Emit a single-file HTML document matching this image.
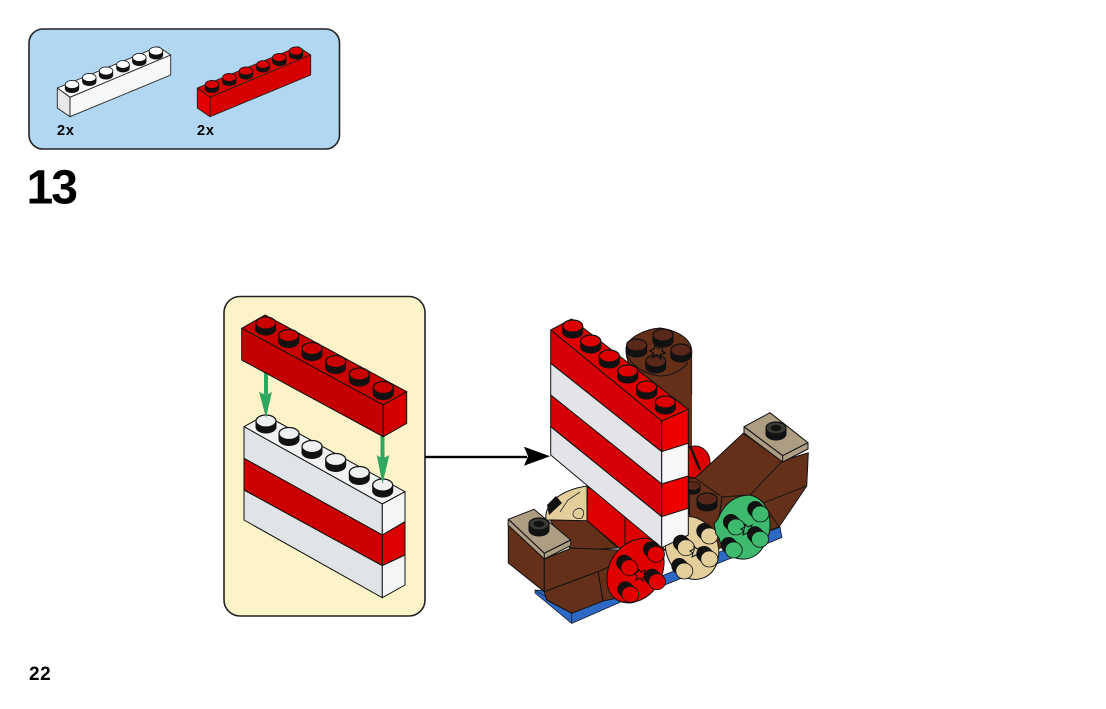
<!DOCTYPE html>
<html><head><meta charset="utf-8"><style>
html,body{margin:0;padding:0;background:#fff}
svg{display:block}
text{font-family:"Liberation Sans",Arial,sans-serif;font-weight:bold;fill:#000}
</style></head><body>
<svg width="1106" height="709" viewBox="0 0 1106 709" xmlns="http://www.w3.org/2000/svg">
<defs>
<g id="st"><path d="M-10.500 0V6A10.500 6.500 0 0 0 10.500 6V0Z" fill="#111"/><ellipse rx="10" ry="6" fill="currentColor" stroke="#111" stroke-width="1.200"/></g>
<g id="ds"><path d="M0 0L-4 -4" stroke="#111" stroke-width="16" stroke-linecap="round" fill="none"/><ellipse cx="1" cy="1" rx="8.500" ry="8" fill="currentColor" stroke="#111" stroke-width=".8"/></g>
<path id="star" d="M-6 -1L-2 -3L-2 -6L1 -3L5 -5L4 -1L7 1L3 2L3 6L0 3L-4 5L-3 1Z" fill="none" stroke="#111" stroke-width="1"/>
</defs>

<!-- parts panel -->
<rect x="29" y="29" width="310.500" height="120" rx="14" fill="#b1d7f3" stroke="#222" stroke-width="1.600"/>
<g stroke="#222" stroke-width=".9" stroke-linejoin="round">
<path d="M57.300 88L158.300 46.700L170.700 55L70 97.300Z" fill="#f7f8f8"/>
<path d="M57.300 88L70 97.300V116.700L57.300 108Z" fill="#e6e8e9"/>
<path d="M70 97.300L170.700 55V75L70 116.700Z" fill="#f6f7f8"/>
<path d="M197.300 88L298.300 46.700L310.700 55L210 97.300Z" fill="#d80000"/>
<path d="M197.300 88L210 97.300V116.700L197.300 108Z" fill="#e20000"/>
<path d="M210 97.300L310.700 55V75L210 116.700Z" fill="#d60000"/>
</g>
<g color="#fff">
<use href="#st" transform="translate(72 84.500) scale(.68)"/><use href="#st" transform="translate(89.300 77.500) scale(.68)"/><use href="#st" transform="translate(106 71) scale(.68)"/><use href="#st" transform="translate(123 64.500) scale(.64)"/><use href="#st" transform="translate(139.300 57.500) scale(.68)"/><use href="#st" transform="translate(156 51) scale(.68)"/>
</g>
<g color="#d80000">
<use href="#st" transform="translate(212 84.500) scale(.68)"/><use href="#st" transform="translate(229.300 77.500) scale(.68)"/><use href="#st" transform="translate(246 71) scale(.68)"/><use href="#st" transform="translate(263 64.500) scale(.64)"/><use href="#st" transform="translate(279.300 57.500) scale(.68)"/><use href="#st" transform="translate(296 51) scale(.68)"/>
</g>
<text x="57" y="135" font-size="14.500" letter-spacing=".8">2x</text>
<text x="197" y="135" font-size="14.500" letter-spacing=".8">2x</text>
<text x="26.500" y="203.500" font-size="48" letter-spacing="-2">13</text>
<text x="29" y="680" font-size="19" letter-spacing=".6">22</text>

<!-- inset -->
<rect x="224" y="296.500" width="201" height="319.500" rx="16" fill="#fdf3c9" stroke="#222" stroke-width="1.600"/>
<g stroke="#111" stroke-width="1" stroke-linejoin="round">
<path d="M244 426.700L265 415L405 491.700L382.300 504Z" fill="#f1f2f2"/>
<path d="M244 426.700L382.300 504V535L244 458.300Z" fill="#e1e4e6"/>
<path d="M244 458.300L382.300 535V565.700L244 490Z" fill="#cc0000"/>
<path d="M244 490L382.300 565.700V597.700L244 520Z" fill="#e1e4e6"/>
<path d="M382.300 504L405 491.700V521.700L382.300 535Z" fill="#f4f5f5"/>
<path d="M382.300 535L405 521.700V555L382.300 565.700Z" fill="#dd0000"/>
<path d="M382.300 565.700L405 555V585L382.300 597.700Z" fill="#f4f5f5"/>
</g>
<g color="#eef0f1">
<use href="#st" transform="translate(266 421)"/><use href="#st" transform="translate(289 433.500)"/><use href="#st" transform="translate(312 446.500)"/><use href="#st" transform="translate(335.700 459.500)"/><use href="#st" transform="translate(359.300 472.500)"/><use href="#st" transform="translate(382.700 485)"/>
</g>
<g fill="#2fa85f">
<rect x="264" y="358" width="4" height="36"/>
<path d="M259 391.500Q266 397 272 391.500L266 418Z"/>
<rect x="380.500" y="434" width="4" height="24"/>
<path d="M376.700 455Q382.500 460 389.300 455L382.500 484Z"/>
</g>
<g stroke="#111" stroke-width="1" stroke-linejoin="round">
<path d="M241.700 328.300L265 315L406.700 391.700L383.300 405Z" fill="#c80000"/>
<path d="M241.700 328.300L383.300 405V436.700L241.700 360Z" fill="#c40000"/>
<path d="M383.300 405L406.700 391.700V423.300L383.300 436.700Z" fill="#d40000"/>
</g>
<g color="#c80000">
<use href="#st" transform="translate(265.700 323)"/><use href="#st" transform="translate(288.700 335.500)"/><use href="#st" transform="translate(312 348.500)"/><use href="#st" transform="translate(335.700 361.500)"/><use href="#st" transform="translate(359.300 374)"/><use href="#st" transform="translate(383.300 387.500)"/>
</g>

<!-- arrow -->
<rect x="425" y="455.800" width="102" height="2.400" fill="#000"/>
<path d="M524 446.700L550 456.200L524 465.700L528 456.200Z" fill="#000"/>

<!-- main model -->
<path d="M535 590V593L571.700 623.500L623 601V595ZM640 595L782 537.500L780 527L640 585Z" fill="#2c68c4" stroke="#111" stroke-width=".7"/>
<path d="M535 590L571.700 613L571.700 623.500" fill="none" stroke="#111" stroke-width=".7"/>

<!-- cylinder -->
<path d="M626 352L636 392L688 440L692 470L690 515H660V400Z" fill="#64301a"/>
<path d="M626 352C628 375 650 395 672 400C678 408 686 412 689 412L691.700 352Z" fill="#64301a" stroke="#111" stroke-width=".9"/>
<path d="M626 349C626 338 645 329 660 328C680 331 692 340 691.700 352C692 364 676 376 660 376C642 374 626 362 626 349Z" fill="#64301a" stroke="#111" stroke-width="1"/>
<rect x="688" y="350" width="4" height="165" fill="#64301a"/>
<path d="M691.700 352V395" stroke="#111" stroke-width=".8"/>
<g color="#59281a">
<use href="#st" transform="translate(663 335)"/><use href="#st" transform="translate(636.700 345)"/><use href="#st" transform="translate(680.700 350)"/><use href="#st" transform="translate(655.700 361)"/>
</g>
<use href="#star" transform="translate(657 352) scale(1.200)"/>

<!-- red back disc -->
<ellipse cx="695" cy="462" rx="15" ry="16" fill="#dd0000" stroke="#111" stroke-width="1"/>
<path d="M690 446L700 470" stroke="#111" stroke-width="2.500"/>

<!-- right brown -->
<path d="M689 478L695 478.300L743.300 433.300L782 461L808.300 452.700L806.700 486L779 527L740 540L690 560Z" fill="#64301a" stroke="#111" stroke-width="1" stroke-linejoin="round"/>
<path d="M695 478.300L722 497M781.700 461.700L750 495L722 497M750 495L763 503L806.700 486M763 503L779 527M722 497L718 525" fill="none" stroke="#111" stroke-width=".9"/>
<path d="M744 426.700L770 412.700L808 442.700L782.700 455.700Z" fill="#ad9d83" stroke="#111" stroke-width="1" stroke-linejoin="round"/>
<path d="M744 426.700L782.700 455.700V462L744 433ZM782.700 455.700L808 442.700V449L782.700 462Z" fill="#ad9d83" stroke="#111" stroke-width="1" stroke-linejoin="round"/>
<use href="#st" transform="translate(776 428)" color="#3a3a36"/>
<ellipse cx="776" cy="428" rx="5.500" ry="3.200" fill="#111"/>
<use href="#st" transform="translate(707 499)" color="#59281a"/>
<use href="#st" transform="translate(693 486) scale(.7)" color="#59281a"/>

<!-- cream back disc -->
<path d="M546 520C544 504 560 490 587 486V521Z" fill="#e4cf9c" stroke="#111" stroke-width="1"/>
<path d="M556 496L547 505L549 515L562 503Z" fill="#111"/>
<path d="M560 512L568 500L580 492M575 510C570 515 575 520 582 518C586 512 582 505 575 510Z" fill="none" stroke="#222" stroke-width=".8"/>

<!-- red bricks below wall -->
<path d="M587.300 487L587 521L640 565L665 550L625 505Z" fill="#dd0000" stroke="#111" stroke-width="1" stroke-linejoin="round"/>
<path d="M625 516V548" stroke="#111" stroke-width="1"/>
<!-- left brown -->
<path d="M550 520L587.300 520.700L618 548L571.700 550.700Z" fill="#64301a" stroke="#111" stroke-width="1" stroke-linejoin="round"/>
<path d="M508.300 525L544.300 559V591.700L508.300 563Z" fill="#64301a" stroke="#111" stroke-width="1" stroke-linejoin="round"/>
<path d="M598 571.700L603 601L632 595L630 555Z" fill="#64301a" stroke="#111" stroke-width="1" stroke-linejoin="round"/>
<path d="M544.300 559L571.700 548L618 550L625 560L598 571.700L544.300 591.700Z" fill="#64301a" stroke="#111" stroke-width="1" stroke-linejoin="round"/>
<path d="M544.300 591.700L598 571.700L603 601L571.700 613.300L546.700 600Z" fill="#64301a" stroke="#111" stroke-width="1" stroke-linejoin="round"/>
<path d="M508.300 519.300L534 509.300L570.700 540L544.300 553.300Z" fill="#ad9d83" stroke="#111" stroke-width="1" stroke-linejoin="round"/>
<path d="M508.300 519.300L544.300 553.300V559L508 525ZM544.300 553.300L570.700 540V545.700L544.300 559Z" fill="#ad9d83" stroke="#111" stroke-width="1" stroke-linejoin="round"/>
<use href="#st" transform="translate(539 524)" color="#3a3a36"/>
<ellipse cx="539" cy="524" rx="5.500" ry="3.200" fill="#111"/>

<!-- tan disc -->
<g transform="rotate(-20 692 548)">
<ellipse cx="692" cy="548" rx="26" ry="32" fill="#e4cf9c" stroke="#111" stroke-width="1"/>
</g>

<!-- wall -->
<g stroke="#111" stroke-width="1" stroke-linejoin="round">
<path d="M550.700 330L571.700 319L688.300 409.300L661.700 421Z" fill="#dc0000"/>
<path d="M550.700 330L661.700 421V451.700L550.700 363.300Z" fill="#d80008"/>
<path d="M550.700 363.300L661.700 451.700V484L550.700 395Z" fill="#e2e4e7"/>
<path d="M550.700 395L661.700 484V516.700L550.700 426.700Z" fill="#d80008"/>
<path d="M550.700 426.700L661.700 516.700V547.700L550.700 455Z" fill="#e2e4e7"/>
<path d="M661.700 421L688.300 409.300V443.300L661.700 451.700Z" fill="#ee0000"/>
<path d="M661.700 451.700L688.300 443.300V476L661.700 484Z" fill="#f7f7f7"/>
<path d="M661.700 484L688.300 476V508.300L661.700 516.700Z" fill="#ee0000"/>
<path d="M661.700 516.700L688.300 508.300V535L661.700 547.700Z" fill="#f7f7f7"/>
</g>
<g color="#dc0000">
<use href="#st" transform="translate(572.700 326)"/><use href="#st" transform="translate(590.700 341)"/><use href="#st" transform="translate(609.300 356)"/><use href="#st" transform="translate(627.700 371)"/><use href="#st" transform="translate(646.700 387)"/><use href="#st" transform="translate(665.300 402)"/>
</g>

<!-- tan disc studs -->
<g color="#e4cf9c">
<use href="#ds" x="708.300" y="535"/><use href="#ds" x="685" y="546.700"/><use href="#ds" x="708.300" y="558"/><use href="#ds" x="683.300" y="570"/>
</g>
<use href="#star" transform="translate(696 552)"/>

<!-- green disc -->
<path d="M714 524L718 519C724 503 736 495 750 495C764 498 771 512 770 528C768 545 758 558 745 559C733 560 722 552 719 538L716 534Z" fill="#3dba6e" stroke="#111" stroke-width="1" stroke-linejoin="round"/>
<g color="#3dba6e">
<use href="#ds" x="759.300" y="513"/><use href="#ds" x="735" y="526"/><use href="#ds" x="759" y="538.300"/><use href="#ds" x="732.700" y="549"/>
</g>
<use href="#star" transform="translate(747 530)"/>

<!-- red disc -->
<path d="M607 582C606 560 620 540 645 538C658 540 665 550 664 565C662 585 650 600 630 603C616 603 608 595 607 582Z" fill="#e00000" stroke="#111" stroke-width="1"/>
<g color="#e00000">
<use href="#ds" x="655" y="553.300"/><use href="#ds" x="628.300" y="566.700"/><use href="#ds" x="656" y="580.700"/><use href="#ds" x="629.300" y="593.300"/>
</g>
<use href="#star" transform="translate(640 575)"/>
</svg>
</body></html>
